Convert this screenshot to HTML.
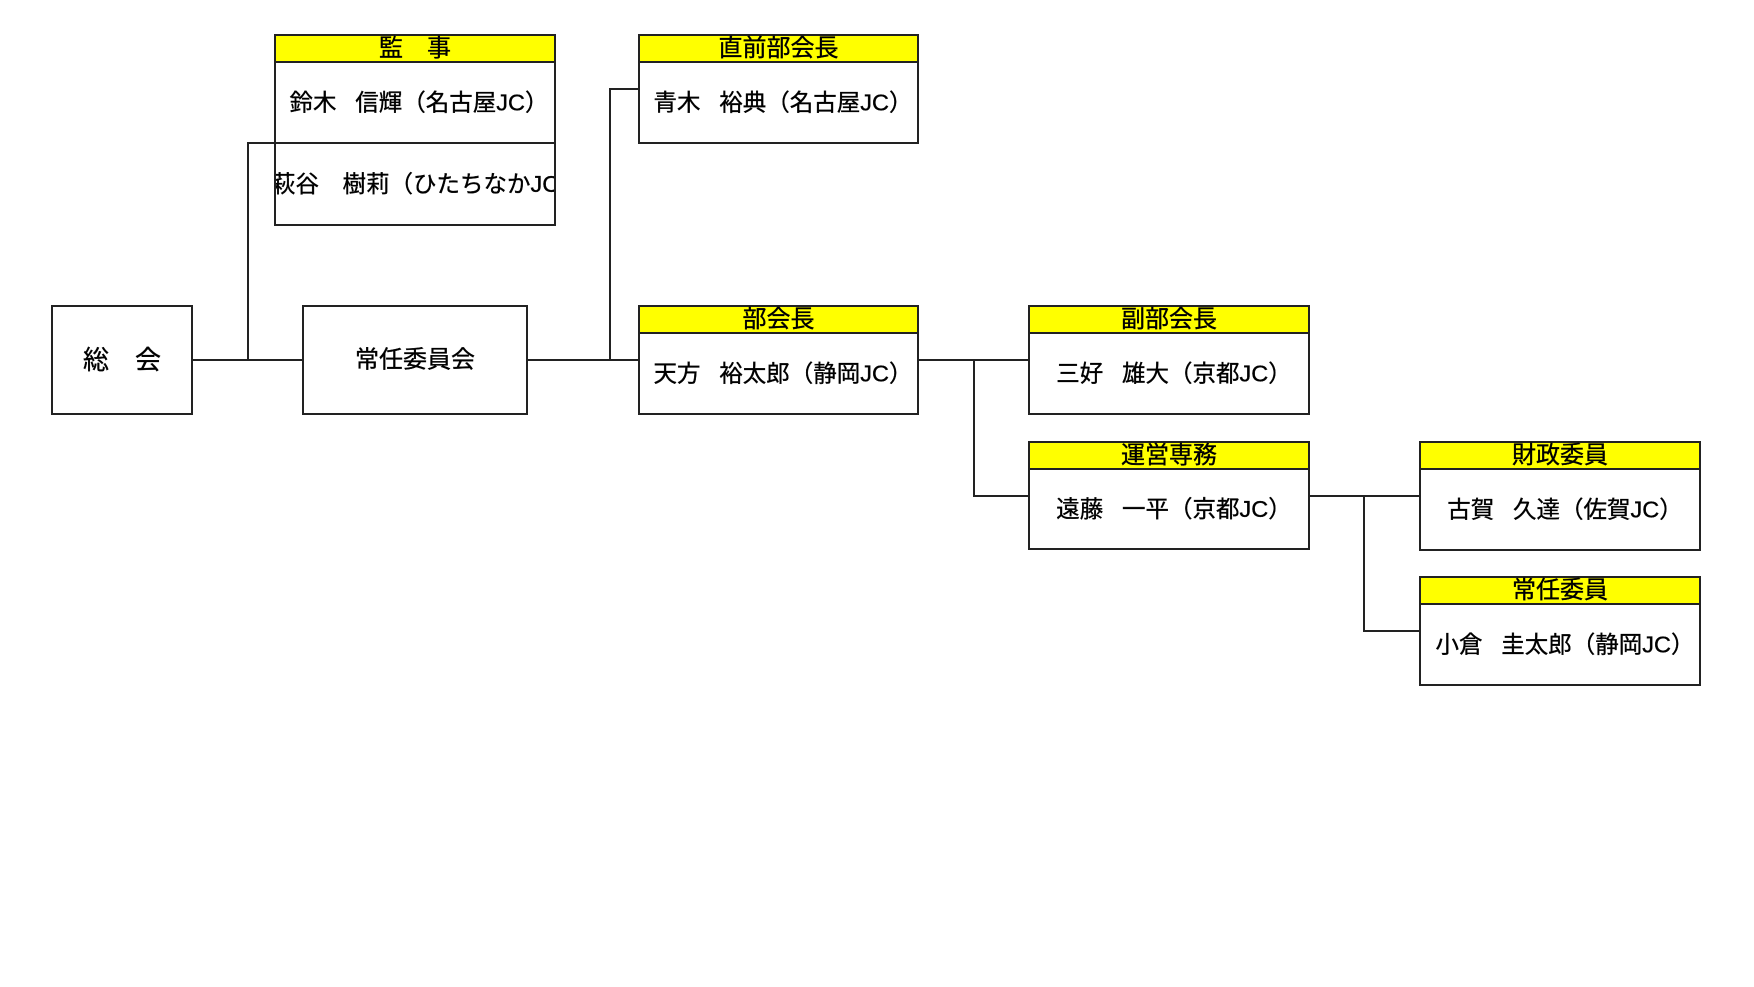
<!DOCTYPE html>
<html lang="ja">
<head>
<meta charset="utf-8">
<style>
  html,body{margin:0;padding:0;background:#fff;}
  body{width:1754px;height:987px;overflow:hidden;}
  svg{display:block;}
  text{font-family:"Liberation Sans","Noto Sans CJK JP",sans-serif;fill:#000;stroke:#000;stroke-width:0.35px;}
  .h{font-size:24px;}
  .b{font-size:23.5px;}
</style>
</head>
<body>
<svg width="1754" height="987" viewBox="0 0 1754 987" xmlns="http://www.w3.org/2000/svg">
  <defs>
    <clipPath id="c1"><rect x="276" y="144" width="278" height="80"/></clipPath>
  </defs>
  <rect x="0" y="0" width="1754" height="987" fill="#fff"/>

  <!-- connectors -->
  <g stroke="#222" stroke-width="2" fill="none">
    <path d="M192 360 H303"/>
    <path d="M248 360 V143 H275"/>
    <path d="M527 360 H639"/>
    <path d="M610 360 V89 H639"/>
    <path d="M918 360 H1029"/>
    <path d="M974 360 V496 H1029"/>
    <path d="M1309 496 H1420"/>
    <path d="M1364 496 V631 H1420"/>
  </g>

  <!-- yellow headers -->
  <g fill="#ffff00">
    <rect x="275" y="35" width="280" height="27"/>
    <rect x="639" y="35" width="279" height="27"/>
    <rect x="639" y="306" width="279" height="27"/>
    <rect x="1029" y="306" width="280" height="27"/>
    <rect x="1029" y="442" width="280" height="27"/>
    <rect x="1420" y="442" width="280" height="27"/>
    <rect x="1420" y="577" width="280" height="27"/>
  </g>

  <!-- box outlines -->
  <g stroke="#222" stroke-width="2" fill="none">
    <rect x="52" y="306" width="140" height="108"/>
    <rect x="303" y="306" width="224" height="108"/>

    <rect x="275" y="35" width="280" height="190"/>
    <path d="M275 62 H555 M275 143 H555"/>

    <rect x="639" y="35" width="279" height="108"/>
    <path d="M639 62 H918"/>

    <rect x="639" y="306" width="279" height="108"/>
    <path d="M639 333 H918"/>

    <rect x="1029" y="306" width="280" height="108"/>
    <path d="M1029 333 H1309"/>

    <rect x="1029" y="442" width="280" height="107"/>
    <path d="M1029 469 H1309"/>

    <rect x="1420" y="442" width="280" height="108"/>
    <path d="M1420 469 H1700"/>

    <rect x="1420" y="577" width="280" height="108"/>
    <path d="M1420 604 H1700"/>
  </g>

  <!-- text -->
  <g text-anchor="middle" dominant-baseline="central">
    <text x="122" y="360" style="font-size:26px">総　会</text>
    <text x="415" y="360" style="font-size:24px">常任委員会</text>

    <text class="h" x="415" y="48.5">監　事</text>
    <text class="b" x="419" y="102.5">鈴木&#8194;<tspan dx="7">信輝（名古屋JC）</tspan></text>

    <text class="h" x="778.5" y="48.5">直前部会長</text>
    <text class="b" x="783" y="102.5">青木&#8194;<tspan dx="7">裕典（名古屋JC）</tspan></text>

    <text class="h" x="778.5" y="319.5">部会長</text>
    <text class="b" x="783" y="373.5">天方&#8194;<tspan dx="7">裕太郎（静岡JC）</tspan></text>

    <text class="h" x="1169" y="319.5">副部会長</text>
    <text class="b" x="1174" y="373.5">三好&#8194;<tspan dx="7">雄大（京都JC）</tspan></text>

    <text class="h" x="1169" y="455.5">運営専務</text>
    <text class="b" x="1174" y="509">遠藤&#8194;<tspan dx="7">一平（京都JC）</tspan></text>

    <text class="h" x="1560" y="455.5">財政委員</text>
    <text class="b" x="1565" y="509.5">古賀&#8194;<tspan dx="7">久達（佐賀JC）</tspan></text>

    <text class="h" x="1560" y="590.5">常任委員</text>
    <text class="b" x="1565" y="644.5">小倉&#8194;<tspan dx="7">圭太郎（静岡JC）</tspan></text>
  </g>
  <g clip-path="url(#c1)">
    <text class="b" x="272" y="184" dominant-baseline="central">萩谷　樹莉（ひたちなかJC）</text>
  </g>
</svg>
</body>
</html>
